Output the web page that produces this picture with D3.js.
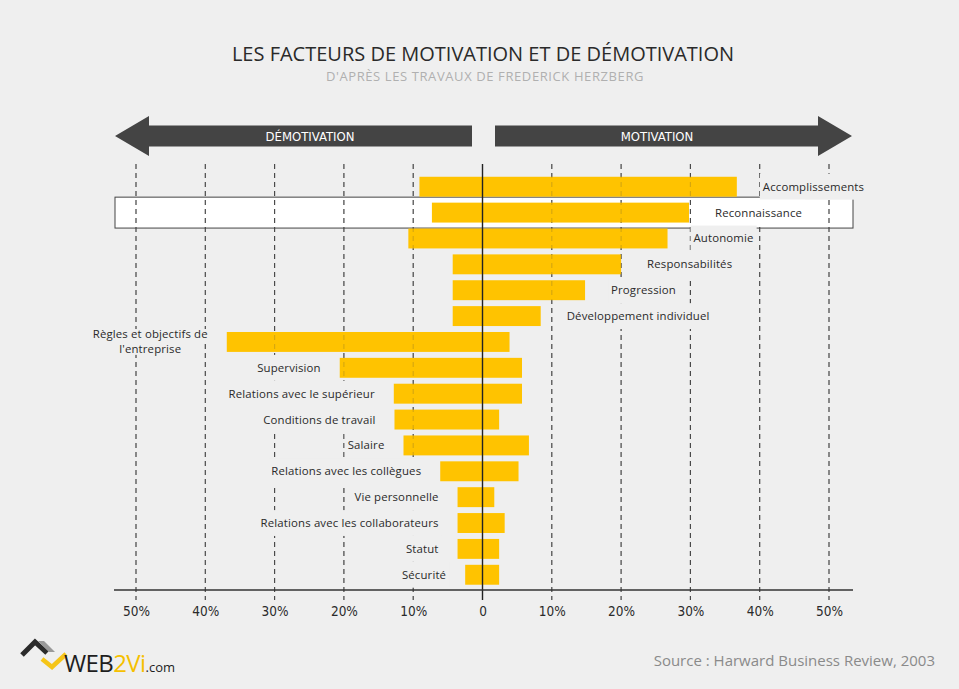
<!DOCTYPE html>
<html>
<head>
<meta charset="utf-8">
<script src="https://cdn.jsdelivr.net/npm/d3@7/dist/d3.min.js"></script>
<style>
  html, body { margin: 0; padding: 0; background: #efefef; }
  svg { display: block; }
</style>
</head>
<body>
<svg id="chart" width="959" height="689"></svg>
<script>
// ---- DATA ----
const categories = [
  "Accomplissements", "Reconnaissance", "Autonomie", "Responsabilités",
  "Progression", "Développement individuel", "Règles et objectifs de\nl'entreprise",
  "Supervision", "Relations avec le supérieur", "Conditions de travail", "Salaire",
  "Relations avec les collègues", "Vie personnelle", "Relations avec les collaborateurs",
  "Statut", "Sécurité"
];
const demotivation = [9.1, 7.3, 10.7, 4.3, 4.3, 4.3, 36.9, 20.6, 12.8, 12.7, 11.4, 6.1, 3.6, 3.6, 3.6, 2.5];
const motivation   = [36.7, 29.8, 26.7, 20.0, 14.8, 8.4, 3.9, 5.7, 5.7, 2.4, 6.7, 5.2, 1.7, 3.2, 2.4, 2.4];
const factorType   = ["moteur","moteur","moteur","moteur","moteur","moteur",
                      "hygiene","hygiene","hygiene","hygiene","hygiene","hygiene","hygiene","hygiene","hygiene","hygiene"];
const highlighted = "Reconnaissance";
const tickValues = [-50, -40, -30, -20, -10, 0, 10, 20, 30, 40, 50];
const tickLabels = ["50%", "40%", "30%", "20%", "10%", "0", "10%", "20%", "30%", "40%", "50%"];
const title = "LES FACTEURS DE MOTIVATION ET DE DÉMOTIVATION";
const subtitle = "D'APRÈS LES TRAVAUX DE FREDERICK HERZBERG";
const leftArrowLabel = "DÉMOTIVATION";
const rightArrowLabel = "MOTIVATION";
const source = "Source : Harward Business Review, 2003";

// ---- STYLE ----
const BG = "#efefef";
const BAR = "#ffc300";
const DARK = "#444444";
const labelFont = "'Open Sans', 'Noto Sans', sans-serif";
const narrowFont = "'Liberation Sans Narrow', 'DejaVu Sans Condensed', 'Roboto', sans-serif";

const rows = categories.map((c, i) => ({
  name: c, neg: demotivation[i], pos: motivation[i], type: factorType[i]
}));

const svg = d3.select("#chart");
svg.append("rect").attr("width", 959).attr("height", 689).attr("fill", BG);

const x = d3.scaleLinear().domain([-50, 50]).range([136, 829]);
const y = d3.scaleBand().domain(categories).range([173.8, 587.7]).paddingInner(0.23).paddingOuter(0.115);
const gridTop = 164, gridBottom = 600, axisY = 590;

// Title
svg.append("text").attr("x", 483).attr("y", 61).attr("text-anchor", "middle")
  .attr("font-family", labelFont).attr("font-size", 20).attr("fill", "#2a2a2a")
  .text(title);
svg.append("text").attr("x", 485).attr("y", 81).attr("text-anchor", "middle")
  .attr("font-family", labelFont).attr("font-size", 13).attr("letter-spacing", 0.6).attr("fill", "#b0b0b0")
  .text(subtitle);

// Arrows
const arrowG = svg.append("g");
const ac = 136, shaftH = 21, headH = 40;
arrowG.append("path").attr("fill", DARK).attr("d",
  `M115,${ac} L149,${ac - headH/2} L149,${ac - shaftH/2} L472,${ac - shaftH/2} L472,${ac + shaftH/2} L149,${ac + shaftH/2} L149,${ac + headH/2} Z`);
arrowG.append("path").attr("fill", DARK).attr("d",
  `M852,${ac} L818,${ac - headH/2} L818,${ac - shaftH/2} L495,${ac - shaftH/2} L495,${ac + shaftH/2} L818,${ac + shaftH/2} L818,${ac + headH/2} Z`);
arrowG.append("text").attr("x", 310).attr("y", ac).attr("dy", "0.36em").attr("text-anchor", "middle")
  .attr("font-family", narrowFont).attr("font-size", 13).attr("fill", "#fff").text(leftArrowLabel);
arrowG.append("text").attr("x", 657).attr("y", ac).attr("dy", "0.36em").attr("text-anchor", "middle")
  .attr("font-family", narrowFont).attr("font-size", 13).attr("fill", "#fff").text(rightArrowLabel);

// Highlight box
const hb = y(highlighted);
svg.append("rect").attr("x", 115).attr("y", hb - 5.5).attr("width", 738).attr("height", y.bandwidth() + 11)
  .attr("fill", "#ffffff").attr("stroke", DARK).attr("stroke-width", 1);

// Gridlines
const gridVals = tickValues.filter(d => d !== 0);
function drawGrid(g, opacity) {
  g.selectAll("line").data(gridVals).join("line")
    .attr("x1", d => x(d)).attr("x2", d => x(d))
    .attr("y1", gridTop).attr("y2", gridBottom)
    .attr("stroke", "#444").attr("stroke-width", 1.1)
    .attr("stroke-dasharray", "5,4").attr("opacity", opacity);
}
drawGrid(svg.append("g"), 1);

// Bars
svg.append("g").selectAll("rect").data(rows).join("rect")
  .attr("x", d => x(-d.neg)).attr("y", d => y(d.name))
  .attr("width", d => x(d.pos) - x(-d.neg)).attr("height", y.bandwidth())
  .attr("fill", BAR);

drawGrid(svg.append("g"), 0.22);

// Labels with background masks
const labG = svg.append("g");
const step = y.step();
rows.forEach(d => {
  const lines = d.name.split("\n");
  const cy = y(d.name) + y.bandwidth() / 2;
  const isMot = d.type === "moteur";
  const lineH = 15;
  const bgFill = d.name === highlighted ? "#ffffff" : BG;
  const texts = lines.map((ln, k) => {
    const ty = cy + (k - (lines.length - 1) / 2) * lineH;
    const t = labG.append("text").attr("y", ty).attr("dy", "0.35em")
      .attr("font-family", labelFont).attr("font-size", 11.4).attr("letter-spacing", 0.15)
      .attr("fill", "#2a2a2a").text(ln);
    return { t, ty, w: t.node().getComputedTextLength() };
  });
  const maxW = d3.max(texts, o => o.w);
  let centerX;
  if (isMot) centerX = x(d.pos) + 26 + maxW / 2;
  else centerX = x(-d.neg) - 19 - maxW / 2;
  texts.forEach((o, k) => {
    o.t.attr("x", centerX).attr("text-anchor", "middle");
    const h = step / lines.length;
    const top = y(d.name) + y.bandwidth() / 2 - step / 2 + k * h;
    labG.insert("rect", "text").attr("x", centerX - o.w / 2 - 3).attr("y", top)
      .attr("width", o.w + 6).attr("height", h).attr("fill", bgFill);
  });
});

// Zero line
svg.append("line").attr("x1", x(0)).attr("x2", x(0)).attr("y1", gridTop).attr("y2", gridBottom)
  .attr("stroke", "#222").attr("stroke-width", 1.4);

// Axis line
svg.append("line").attr("x1", 114).attr("x2", 853).attr("y1", axisY).attr("y2", axisY)
  .attr("stroke", "#333").attr("stroke-width", 1.4);

// Tick labels via d3 axis
const axis = d3.axisBottom(x).tickValues(tickValues)
  .tickFormat((d, i) => tickLabels[i]).tickSize(0).tickPadding(16);
const ax = svg.append("g").attr("transform", `translate(0,${axisY})`).call(axis);
ax.select(".domain").remove();
ax.selectAll("text").attr("font-family", narrowFont).attr("font-size", 13.5).attr("fill", "#2a2a2a");

// Source
svg.append("text").attr("x", 935).attr("y", 666).attr("text-anchor", "end")
  .attr("font-family", labelFont).attr("font-size", 15).attr("letter-spacing", 0).attr("fill", "#8a8a8a").text(source);

// Logo
const logo = svg.append("g");
logo.append("path").attr("d", "M22,655 L35,642 L47,653").attr("fill", "none")
  .attr("stroke", "#2b2b2b").attr("stroke-width", 5).attr("stroke-linejoin", "miter");
logo.append("path").attr("d", "M38,641 L44,641 L55,652 L49,652 Z").attr("fill", "#9a9a9a");
logo.append("path").attr("d", "M42,659 L52,667 L66,654").attr("fill", "none")
  .attr("stroke", "#f5c518").attr("stroke-width", 4.5);
const lt = logo.append("text").attr("x", 64).attr("y", 672)
  .attr("font-family", "'Open Sans', sans-serif").attr("font-size", 24).attr("letter-spacing", -0.6);
lt.append("tspan").attr("fill", "#1e1e1e").text("WEB");
lt.append("tspan").attr("fill", "#f5c000").text("2Vi");
lt.append("tspan").attr("fill", "#1e1e1e").attr("font-size", 13).attr("letter-spacing", 0).text(".com");
</script>
</body>
</html>
